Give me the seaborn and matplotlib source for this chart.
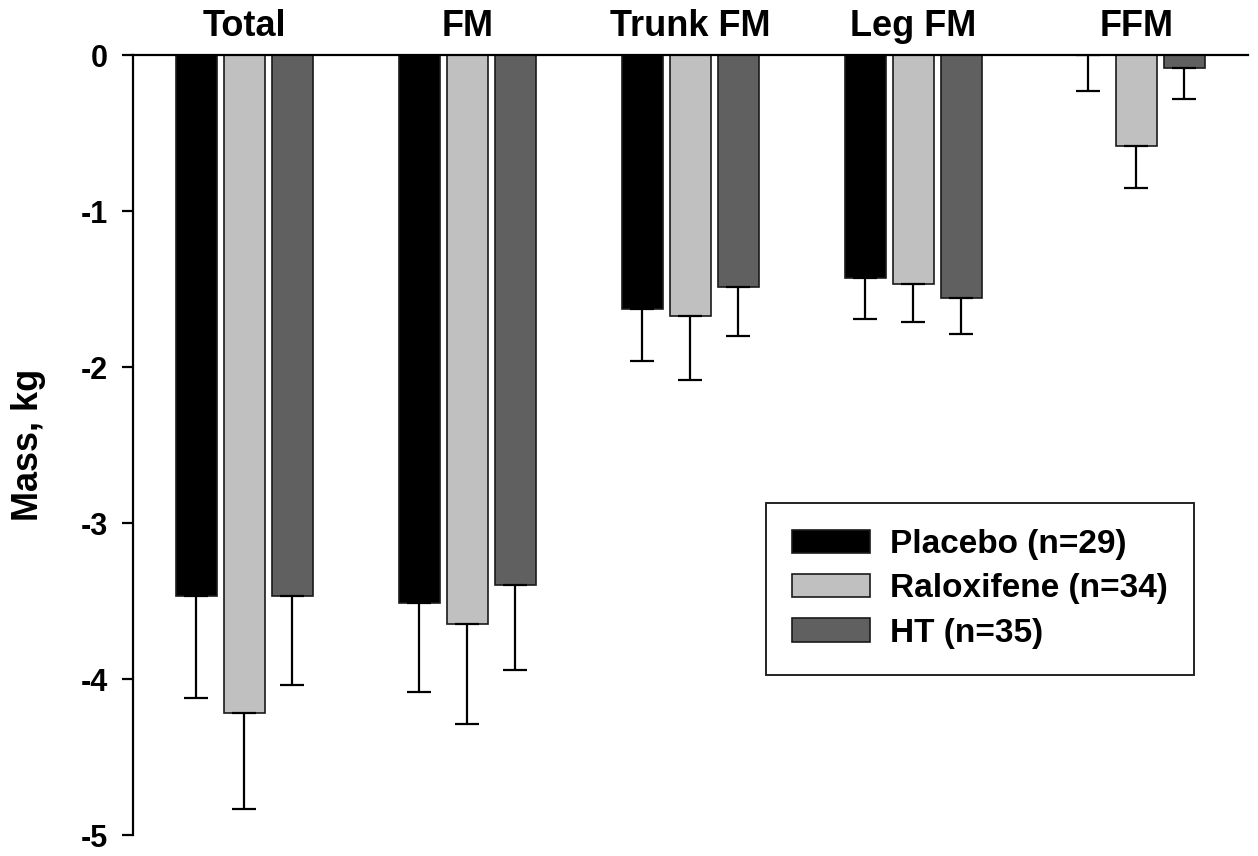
import numpy as np
import pandas as pd
import matplotlib
matplotlib.use("Agg")
import matplotlib.pyplot as plt
import seaborn as sns

sns.set_theme(style="ticks")
plt.rcParams['font.family'] = ['Liberation Sans', 'DejaVu Sans']
plt.rcParams['font.weight'] = 'bold'
plt.rcParams['axes.unicode_minus'] = False
plt.rcParams['text.color'] = 'black'
plt.rcParams['axes.labelcolor'] = 'black'
plt.rcParams['xtick.color'] = 'black'
plt.rcParams['ytick.color'] = 'black'

# --- data ---
regions = ['Total', 'FM', 'Trunk FM', 'Leg FM', 'FFM']
groups = ['Placebo (n=29)', 'Raloxifene (n=34)', 'HT (n=35)']
placebo = [-3.47, -3.51, -1.63, -1.43, 0.0]
raloxifene = [-4.22, -3.65, -1.67, -1.47, -0.58]
ht = [-3.47, -3.40, -1.49, -1.56, -0.08]
placebo_err = [0.65, 0.57, 0.33, 0.26, 0.23]
raloxifene_err = [0.61, 0.64, 0.41, 0.24, 0.27]
ht_err = [0.57, 0.54, 0.31, 0.23, 0.20]
colors = ['#000000', '#c0c0c0', '#606060']

means = [placebo, raloxifene, ht]
errs = [placebo_err, raloxifene_err, ht_err]
df = pd.DataFrame({
    'region': regions * len(groups),
    'group': np.repeat(groups, len(regions)),
    'mass': np.concatenate(means),
})

fig = plt.figure(figsize=(12.58, 8.56), dpi=100)
ax = fig.add_axes([0.1057, 0.0245, 0.8863, 0.9112])

sns.barplot(data=df, x='region', y='mass', hue='group', order=regions,
            hue_order=groups, palette=colors, width=0.646, gap=0.146,
            edgecolor='#1a1a1a', linewidth=1.2, errorbar=None,
            legend=False, ax=ax)

# one-sided (downward) error bars hanging from the bar ends
for cont, err in zip(ax.containers, errs):
    xs = [p.get_x() + p.get_width() / 2 for p in cont.patches]
    ys = [min(p.get_y(), p.get_y() + p.get_height()) for p in cont.patches]
    ax.errorbar(xs, ys, yerr=[err, np.zeros(len(err))], fmt='none',
                ecolor='black', elinewidth=1.6, capsize=8.6, capthick=1.6,
                zorder=1)

ax.set_xlim(-0.5, 4.5)
ax.set_ylim(-5, 0)
ax.set_yticks([0, -1, -2, -3, -4, -5])
ax.set_yticklabels(['0', '-1', '-2', '-3', '-4', '-5'])
ax.xaxis.tick_top()
ax.tick_params(axis='x', length=0, pad=8, labelsize=26)
ax.tick_params(axis='y', length=8, width=1.6, pad=10, labelsize=22)
ax.set_xlabel('')
ax.set_ylabel('Mass, kg', fontsize=26, fontweight='bold')
ax.yaxis.set_label_coords(-0.078, 0.5)

for side in ['right', 'bottom']:
    ax.spines[side].set_visible(False)
for side in ['left', 'top']:
    ax.spines[side].set_color('black')
    ax.spines[side].set_linewidth(1.6)

handles = [plt.Rectangle((0, 0), 1, 1, facecolor=c, edgecolor='#1a1a1a',
                         linewidth=1.2) for c in colors]
leg = ax.legend(handles, groups, loc='upper left',
                bbox_to_anchor=(766 / 1258, 1 - 503 / 856),
                bbox_transform=fig.transFigure, borderaxespad=0,
                fontsize=24, handlelength=2.34, handleheight=0.69,
                handletextpad=0.6, labelspacing=0.4, borderpad=0.78,
                fancybox=False, frameon=True, framealpha=1)
leg.get_frame().set_edgecolor('#222222')
leg.get_frame().set_linewidth(1.4)

fig.savefig('out.png', dpi=100)
